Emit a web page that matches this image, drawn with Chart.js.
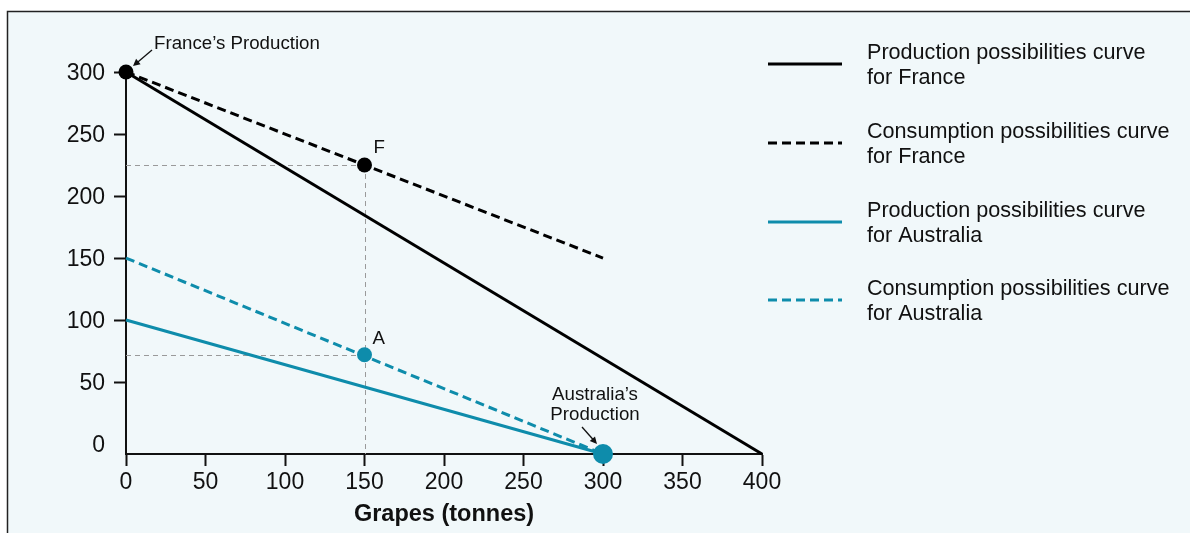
<!DOCTYPE html>
<html>
<head>
<meta charset="utf-8">
<script src="https://cdn.jsdelivr.net/npm/chart.js@4/dist/chart.umd.min.js"></script>
<style>
  html, body { margin: 0; padding: 0; background: #ffffff; }
  #wrap { width: 1190px; height: 533px; position: relative; }
</style>
</head>
<body>
<div id="wrap"><canvas id="c"></canvas></div>
<script>
// ---- data ----
const X_TICKS = [0, 50, 100, 150, 200, 250, 300, 350, 400];
const Y_TICKS = [0, 50, 100, 150, 200, 250, 300];
const Y_FLOOR = -8;           // where the horizontal axis sits
const X_TITLE = 'Grapes (tonnes)';

const FRANCE_PPC_X = [0, 400];
const FRANCE_PPC_Y = [300, -8];
const FRANCE_CPC_X = [0, 300];
const FRANCE_CPC_Y = [300, 150];
const AUS_PPC_X = [0, 300];
const AUS_PPC_Y = [100, -8];
const AUS_CPC_X = [0, 300];
const AUS_CPC_Y = [150, -8];

const FRANCE_PROD = [0, 300];
const POINT_F = [150, 225];
const POINT_A = [150, 72];
const AUS_PROD = [300, -8];

const LEGEND_LABELS = [
  'Production possibilities curve\nfor France',
  'Consumption possibilities curve\nfor France',
  'Production possibilities curve\nfor Australia',
  'Consumption possibilities curve\nfor Australia'
];

const BLACK = '#000000';
const TEAL = '#0e8cab';
const DASH = [9, 5];
const FONT = '"Liberation Sans", Arial, Helvetica, sans-serif';

const pts = (xs, ys) => xs.map((x, i) => ({ x: x, y: ys[i] }));

const lineDs = (label, xs, ys, color, dash) => ({
  label: label, data: pts(xs, ys), showLine: true, borderColor: color,
  backgroundColor: color, borderWidth: 3, borderDash: dash, pointRadius: 0,
  clip: false, isCurve: true, order: 2
});
const dotDs = (p, color, r) => ({
  label: '', data: [{ x: p[0], y: p[1] }], showLine: false, pointRadius: r,
  pointBackgroundColor: color, pointBorderWidth: 0, clip: false, isCurve: false, order: 1
});

const bgPlugin = {
  id: 'bg',
  beforeDraw(chart) {
    const ctx = chart.ctx;
    ctx.save();
    ctx.fillStyle = '#ffffff';
    ctx.fillRect(0, 0, chart.width, chart.height);
    ctx.fillStyle = '#f1f8fa';
    ctx.fillRect(7, 11, chart.width - 7, chart.height - 11);
    ctx.strokeStyle = '#222';
    ctx.lineWidth = 1.5;
    ctx.beginPath();
    ctx.moveTo(7.5, chart.height);
    ctx.lineTo(7.5, 11.5);
    ctx.lineTo(chart.width, 11.5);
    ctx.stroke();
    ctx.restore();
  }
};

const guidesPlugin = {
  id: 'guides',
  beforeDatasetsDraw(chart) {
    const ctx = chart.ctx, xs = chart.scales.x, ys = chart.scales.y;
    const x0 = xs.getPixelForValue(0), yb = ys.getPixelForValue(Y_FLOOR);
    ctx.save();
    ctx.strokeStyle = '#9a9a9a';
    ctx.lineWidth = 1;
    ctx.setLineDash([5, 4]);
    const fx = xs.getPixelForValue(POINT_F[0]), fy = ys.getPixelForValue(POINT_F[1]);
    const ax = xs.getPixelForValue(POINT_A[0]), ay = ys.getPixelForValue(POINT_A[1]);
    ctx.beginPath();
    ctx.moveTo(x0, Math.round(fy) + 0.5); ctx.lineTo(fx, Math.round(fy) + 0.5);
    ctx.moveTo(Math.round(fx) + 0.5, fy); ctx.lineTo(Math.round(fx) + 0.5, yb);
    ctx.moveTo(x0, Math.round(ay) + 0.5); ctx.lineTo(ax, Math.round(ay) + 0.5);
    ctx.stroke();
    ctx.restore();
  }
};

function arrow(ctx, x1, y1, x2, y2) {
  const ang = Math.atan2(y2 - y1, x2 - x1);
  const hl = 7, hw = 3.5;
  ctx.beginPath();
  ctx.moveTo(x1, y1);
  ctx.lineTo(x2 - Math.cos(ang) * hl * 0.8, y2 - Math.sin(ang) * hl * 0.8);
  ctx.stroke();
  ctx.beginPath();
  ctx.moveTo(x2, y2);
  ctx.lineTo(x2 - Math.cos(ang) * hl - Math.sin(ang) * hw, y2 - Math.sin(ang) * hl + Math.cos(ang) * hw);
  ctx.lineTo(x2 - Math.cos(ang) * hl + Math.sin(ang) * hw, y2 - Math.sin(ang) * hl - Math.cos(ang) * hw);
  ctx.closePath();
  ctx.fill();
}

const annotPlugin = {
  id: 'annot',
  afterDatasetsDraw(chart) {
    const ctx = chart.ctx, xs = chart.scales.x, ys = chart.scales.y;
    ctx.save();
    ctx.fillStyle = '#111';
    ctx.strokeStyle = '#111';
    ctx.lineWidth = 1.3;
    ctx.font = '18.7px ' + FONT;
    ctx.textBaseline = 'middle';

    const fpx = xs.getPixelForValue(FRANCE_PROD[0]), fpy = ys.getPixelForValue(FRANCE_PROD[1]);
    ctx.textAlign = 'left';
    ctx.fillText('France\u2019s Production', fpx + 28, fpy - 28);
    arrow(ctx, fpx + 26, fpy - 22, fpx + 7, fpy - 6);

    const fx = xs.getPixelForValue(POINT_F[0]), fy = ys.getPixelForValue(POINT_F[1]);
    ctx.fillText('F', fx + 9, fy - 17);
    const ax = xs.getPixelForValue(POINT_A[0]), ay = ys.getPixelForValue(POINT_A[1]);
    ctx.fillText('A', ax + 8, ay - 16);

    const apx = xs.getPixelForValue(AUS_PROD[0]), apy = ys.getPixelForValue(AUS_PROD[1]);
    ctx.textAlign = 'center';
    ctx.fillText('Australia\u2019s', apx - 8, apy - 59);
    ctx.fillText('Production', apx - 8, apy - 39);
    arrow(ctx, apx - 21, apy - 27, apx - 6, apy - 10);

    // legend
    const lx1 = 768, lx2 = 842, tx = 867;
    const rows = [64, 143, 222, 300];
    chart.data.datasets.filter(d => d.isCurve).forEach((d, i) => {
      const y = rows[i];
      ctx.strokeStyle = d.borderColor;
      ctx.lineWidth = 3;
      ctx.setLineDash(d.borderDash || []);
      ctx.beginPath();
      ctx.moveTo(lx1, y); ctx.lineTo(lx2, y);
      ctx.stroke();
      ctx.setLineDash([]);
      ctx.fillStyle = '#111';
      ctx.font = '21.6px ' + FONT;
      ctx.textAlign = 'left';
      const lines = d.label.split('\n');
      lines.forEach((t, j) => ctx.fillText(t, tx, y - 11 + j * 25));
    });
    ctx.restore();
  }
};

new Chart(document.getElementById('c'), {
  type: 'scatter',
  data: {
    datasets: [
      lineDs(LEGEND_LABELS[0], FRANCE_PPC_X, FRANCE_PPC_Y, BLACK, []),
      lineDs(LEGEND_LABELS[1], FRANCE_CPC_X, FRANCE_CPC_Y, BLACK, DASH),
      lineDs(LEGEND_LABELS[2], AUS_PPC_X, AUS_PPC_Y, TEAL, []),
      lineDs(LEGEND_LABELS[3], AUS_CPC_X, AUS_CPC_Y, TEAL, DASH),
      dotDs(FRANCE_PROD, BLACK, 7.5),
      dotDs(POINT_F, BLACK, 7.5),
      dotDs(POINT_A, TEAL, 7.5),
      dotDs(AUS_PROD, TEAL, 10)
    ]
  },
  options: {
    responsive: true,
    maintainAspectRatio: false,
    animation: false,
    events: [],
    layout: { padding: { left: 0, top: 72, right: 428, bottom: 0 } },
    plugins: { legend: { display: false }, tooltip: { enabled: false } },
    scales: {
      x: {
        type: 'linear', min: 0, max: 400,
        afterFit(s) { s.height = 79; },
        afterBuildTicks(s) { s.ticks = X_TICKS.map(v => ({ value: v })); },
        grid: { drawOnChartArea: false, tickLength: 12, tickColor: '#111', tickWidth: 2 },
        border: { display: true, color: '#111', width: 2 },
        ticks: { color: '#111', font: { family: FONT, size: 23 }, padding: 3, maxRotation: 0 },
        title: { display: true, text: X_TITLE, color: '#111', font: { family: FONT, size: 23.5, weight: 'bold' }, padding: { top: 0, bottom: 4 } }
      },
      y: {
        type: 'linear', min: Y_FLOOR, max: 300,
        afterFit(s) { s.width = 126; },
        afterBuildTicks(s) { s.ticks = Y_TICKS.map(v => ({ value: v })); },
        grid: { drawOnChartArea: false, tickLength: 12, tickWidth: 2,
                tickColor: (c) => (c.tick && c.tick.value === 0) ? 'rgba(0,0,0,0)' : '#111' },
        border: { display: true, color: '#111', width: 2 },
        ticks: { color: '#111', font: { family: FONT, size: 23 }, padding: 9, labelOffset: 2 }
      }
    }
  },
  plugins: [bgPlugin, guidesPlugin, annotPlugin]
});
</script>
</body>
</html>
